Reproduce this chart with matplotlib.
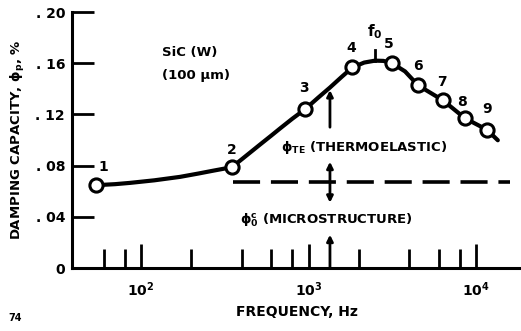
import numpy as np
import matplotlib.pyplot as plt
from matplotlib.ticker import FixedLocator, NullFormatter

# Damping capacity of SiC whisker material vs. frequency

# ------------------------------------------------------------
# Data
# ------------------------------------------------------------

# measured points (open circles)
point_freq = [54, 349, 953, 1830, 3150, 4510, 6350, 8590, 11630]
point_damp = [0.0647, 0.0788, 0.124, 0.1567, 0.160, 0.1427, 0.131, 0.117, 0.108]
point_labels = ["1", "2", "3", "4", "5", "6", "7", "8", "9"]

# faired curve through the points
curve_freq = [54, 70, 86, 120, 171, 220, 269, 310, 349, 400, 460, 513, 600,
              676, 800, 953, 1140, 1343, 1580, 1830, 2150, 2495, 2800, 3150,
              3770, 4510, 6350, 8590, 11630, 13500]
curve_damp = [0.0647, 0.0655, 0.0665, 0.0685, 0.0712, 0.0738, 0.0760, 0.0775,
              0.0788, 0.0850, 0.0914, 0.0964, 0.1035, 0.1090, 0.1166, 0.124,
              0.1330, 0.1410, 0.1494, 0.1567, 0.1605, 0.162, 0.1618, 0.160,
              0.1536, 0.1427, 0.131, 0.117, 0.108, 0.0998]

# microstructure (background) level
micro_level = 0.067
micro_span = [354, 15950]

# peak frequency
f0_freq = 2495
f0_damp = 0.162

# frequency where the two contributions are marked
split_freq = 1343

y_ticks = [0.0, 0.04, 0.08, 0.12, 0.16, 0.20]
y_tick_labels = ["0", ". 04", ". 08", ". 12", ". 16", ". 20"]
x_major = [1e2, 1e3, 1e4]
x_major_labels = ["$10^2$", "$10^3$", "$10^4$"]
x_minor = [60, 80, 200, 400, 600, 800, 2000, 4000, 6000, 8000]

# ------------------------------------------------------------
# Figure
# ------------------------------------------------------------

plt.rcParams["font.family"] = ["DejaVu Sans"]
plt.rcParams["font.weight"] = "bold"
plt.rcParams["mathtext.default"] = "bf"

fig = plt.figure(figsize=(5.21, 3.31), dpi=100)
ax = fig.add_axes([72 / 521, 63 / 331, 449 / 521, 256 / 331])

ax.set_xscale("log")
ax.set_xlim(38.7, 18570)
ax.set_ylim(0, 0.20)

for side in ["top", "right"]:
    ax.spines[side].set_visible(False)
for side in ["left", "bottom"]:
    ax.spines[side].set_linewidth(2.2)

ax.xaxis.set_major_locator(FixedLocator(x_major))
ax.set_xticklabels(x_major_labels)
ax.xaxis.set_minor_locator(FixedLocator(x_minor))
ax.xaxis.set_minor_formatter(NullFormatter())
ax.set_yticks(y_ticks)
ax.set_yticklabels(y_tick_labels)

ax.tick_params(axis="x", which="major", direction="in", length=17, width=2,
               pad=9, labelsize=10)
ax.tick_params(axis="x", which="minor", direction="in", length=14, width=2)
ax.tick_params(axis="y", direction="in", length=16, width=2, pad=5,
               labelsize=10)

ax.set_xlabel("FREQUENCY, Hz", fontsize=10, fontweight="bold", labelpad=4)
ax.set_ylabel(r"DAMPING CAPACITY, $\phi_p$, %", fontsize=9.5,
              fontweight="bold", labelpad=6)

# curve and points
ax.plot(curve_freq, curve_damp, color="black", lw=3, solid_capstyle="round",
        solid_joinstyle="round", zorder=3)
ax.plot(point_freq, point_damp, "o", ms=9.5, mfc="white", mec="black",
        mew=2.2, zorder=4)

label_offsets = [(5, 13), (0, 12), (-1, 15), (-1, 14), (-2, 14),
                 (0, 14), (-1, 13), (-2, 12), (0, 15)]
for f, d, lab, off in zip(point_freq, point_damp, point_labels, label_offsets):
    ax.annotate(lab, (f, d), xytext=off, textcoords="offset points",
                ha="center", va="center", fontsize=10, fontweight="bold")

# peak marker
ax.plot([f0_freq, f0_freq], [f0_damp, f0_damp + 0.008], color="black", lw=2)
ax.annotate("$f_0$", (f0_freq, f0_damp), xytext=(0, 21),
            textcoords="offset points", ha="center", va="center",
            fontsize=11)

# microstructure level
ax.plot(micro_span, [micro_level, micro_level], color="black", lw=2.6,
        dashes=(7.5, 3))

# arrows separating the two contributions
arrow_kw = dict(arrowstyle="-|>", color="black", lw=2, mutation_scale=9,
                shrinkA=0, shrinkB=0)
ax.annotate("", xy=(split_freq, 0.139), xytext=(split_freq, 0.110),
            arrowprops=arrow_kw)
ax.annotate("", xy=(split_freq, 0.083), xytext=(split_freq, micro_level),
            arrowprops=arrow_kw)
ax.annotate("", xy=(split_freq, 0.051), xytext=(split_freq, micro_level),
            arrowprops=arrow_kw)
ax.annotate("", xy=(split_freq, 0.026), xytext=(split_freq, 0.0),
            arrowprops=arrow_kw)

ax.text(685, 0.0943, r"$\phi_{TE}$ (THERMOELASTIC)", fontsize=9.5,
        fontweight="bold", ha="left", va="center")
ax.text(390, 0.0374, r"$\phi_0^c$ (MICROSTRUCTURE)", fontsize=9.5,
        fontweight="bold", ha="left", va="center")

ax.text(133, 0.168, "SiC (W)", fontsize=9.5, fontweight="bold",
        ha="left", va="center")
ax.text(133, 0.150, "(100 \u03bcm)", fontsize=9.5, fontweight="bold",
        ha="left", va="center")

fig.text(8 / 521, 1 - 318 / 331, "74", fontsize=7, fontweight="bold",
         ha="left", va="center")

fig.savefig("out.png", dpi=100)
